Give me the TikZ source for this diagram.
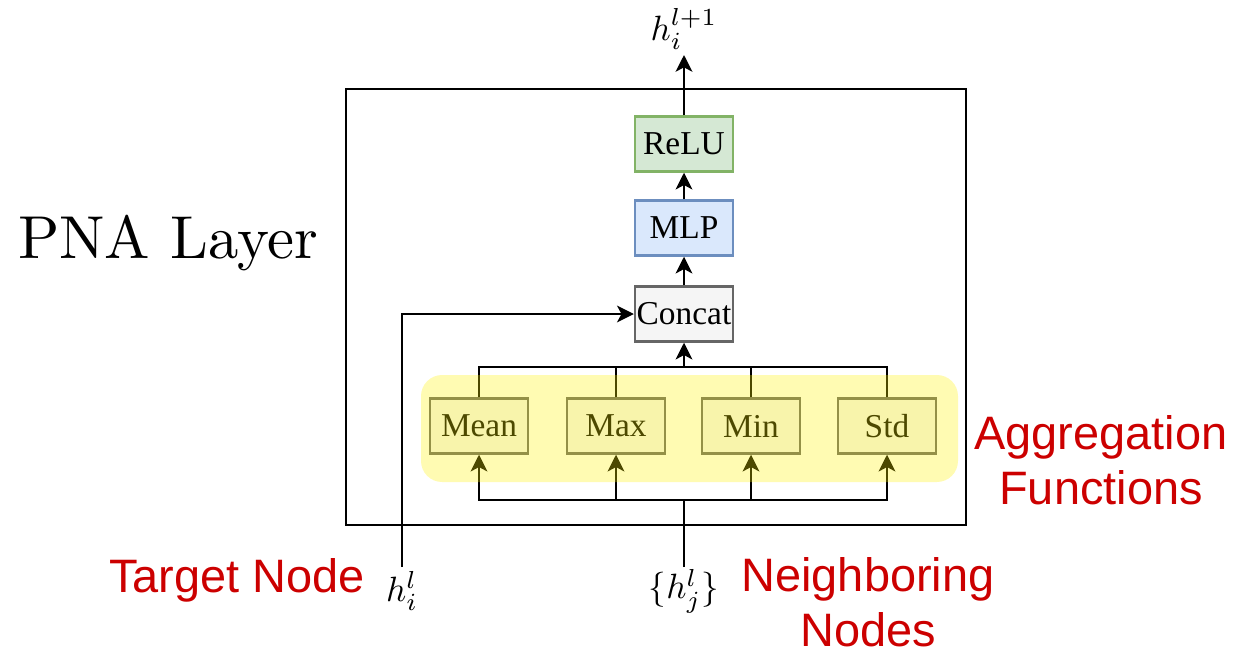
\documentclass[tikz,border=0pt]{standalone}
\usepackage{fontspec}
\newfontfamily\labelsans{Liberation Sans}
\newfontfamily\boxserif{Liberation Serif}
\newfontfamily\titleserif[Extension=.otf]{lmroman10-regular}
\usetikzlibrary{arrows.meta}
\definecolor{redlabel}{HTML}{CC0000}
\definecolor{reluFill}{HTML}{D5E8D4}
\definecolor{reluDraw}{HTML}{82B366}
\definecolor{mlpFill}{HTML}{DAE8FC}
\definecolor{mlpDraw}{HTML}{6C8EBF}
\definecolor{greyFill}{HTML}{F5F5F5}
\definecolor{greyDraw}{HTML}{666666}
\newcommand{\biglbl}[1]{\scalebox{2.0}{$#1$}}
\tikzset{
  opbox/.style={draw, line width=1.4pt, minimum width=1.96cm, minimum height=1.1cm,
    inner sep=0pt, font=\boxserif\fontsize{19}{22}\selectfont},
  flow/.style={line width=1.5pt, -{Stealth[length=9.5pt,width=9.5pt,inset=2.5pt]}},
  wire/.style={line width=1.5pt},
  redtext/.style={text=redlabel, align=center, font=\labelsans\fontsize{26.7}{31.3}\selectfont},
  mathlbl/.style={inner sep=0pt}
}
\begin{document}
\begin{tikzpicture}[x=0.02cm,y=-0.02cm]
\useasboundingbox (0,0) rectangle (1235,653);

% layer frame
\node[draw, line width=0.7pt, minimum width=12.4cm, minimum height=8.72cm, inner sep=0pt] (frame) at (656,307) {};
\node[font=\titleserif\fontsize{34.5}{40}\selectfont] (title) at (168,243) {PNA Layer};

% main stack
\node[opbox, fill=reluFill, draw=reluDraw] (relu) at (684,144) {ReLU};
\node[opbox, fill=mlpFill, draw=mlpDraw] (mlp) at (684,228) {MLP};
\node[opbox, fill=greyFill, draw=greyDraw] (concat) at (684,314) {Concat};

% aggregators
\node[opbox, fill=greyFill, draw=greyDraw] (mean) at (479,426) {Mean};
\node[opbox, fill=greyFill, draw=greyDraw] (max) at (616,426) {Max};
\node[opbox, fill=greyFill, draw=greyDraw] (min) at (751,426) {Min};
\node[opbox, fill=greyFill, draw=greyDraw] (std) at (887,426) {Std};

% inputs and output
\coordinate (out) at (684,55);
\coordinate (tin) at (402,567);
\coordinate (nin) at (684,567);
\coordinate (topbus) at (684,367);
\coordinate (botbus) at (684,500);
\node[mathlbl] (hout) at (684,29) {\biglbl{h_i^{l+1}}};
\node[mathlbl] (hi) at (402,591) {\biglbl{h_i^l}};
\node[mathlbl] (hj) at (684,591) {\biglbl{\{h_j^l\}}};

% connectors
\draw[flow] (relu.north) -- (out);
\draw[flow] (mlp.north) -- (relu.south);
\draw[flow] (concat.north) -- (mlp.south);
\draw[flow] (topbus) -- (concat.south);
\draw[wire] (mean.north) |- (topbus);
\draw[wire] (max.north) |- (topbus);
\draw[wire] (std.north) |- (topbus);
\draw[wire] (min.north) |- (topbus);
\draw[wire] (nin) -- (botbus);
\foreach \n in {mean,max,min,std}
  \draw[flow] (botbus) -| (\n.south);
\draw[flow] (tin) |- (concat.west);

% aggregation highlight
\fill[yellow, opacity=0.3, rounded corners=12pt] (421,375) rectangle (958,482);

% annotations
\node[redtext] (agg) at (1101,460) {Aggregation\\Functions};
\node[redtext] (tgt) at (237,580) {Target Node};
\node[redtext] (nbr) at (868,602) {Neighboring\\Nodes};
\end{tikzpicture}
\end{document}
